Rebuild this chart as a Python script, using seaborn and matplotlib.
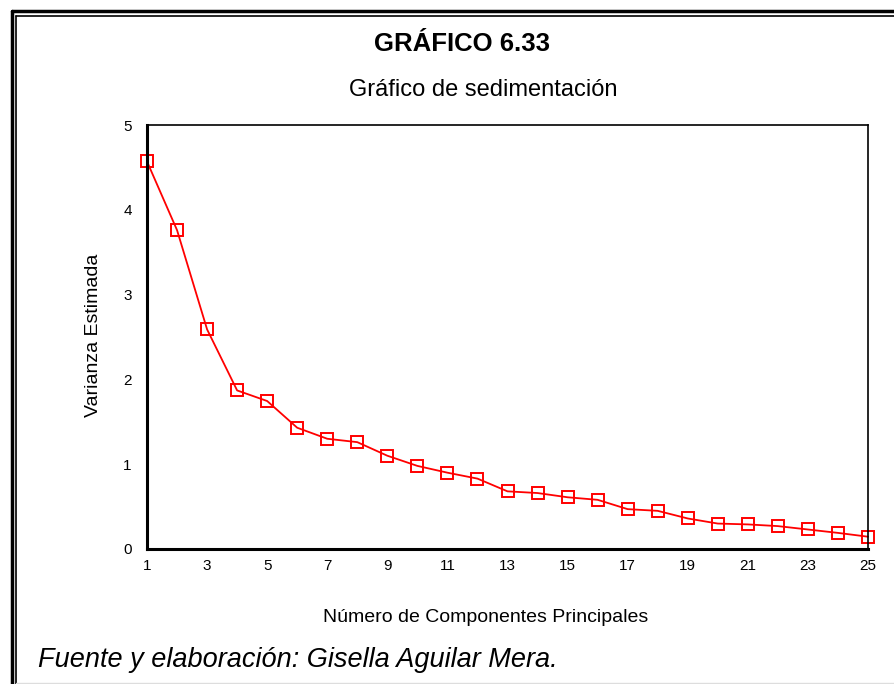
import numpy as np
import pandas as pd
import matplotlib
matplotlib.use("Agg")
import matplotlib.pyplot as plt
import seaborn as sns
from matplotlib.lines import Line2D

# Scree plot data
componentes = list(range(1, 26))
varianza = [4.57, 3.76, 2.59, 1.87, 1.745, 1.43, 1.30, 1.26, 1.10, 0.98,
            0.90, 0.83, 0.68, 0.66, 0.61, 0.58, 0.47, 0.45, 0.36, 0.30,
            0.29, 0.27, 0.23, 0.19, 0.145]
x_ticks = list(range(1, 26, 2))
y_ticks = [0, 1, 2, 3, 4, 5]

sns.set_style("white")
plt.rcParams["font.family"] = ["Liberation Sans", "DejaVu Sans"]
plt.rcParams["text.color"] = "black"

df = pd.DataFrame({"Componente": componentes, "Varianza": varianza})

fig = plt.figure(figsize=(8.94, 6.84), dpi=100)
ax = fig.add_axes([147 / 894, 1 - 549 / 684, (868 - 147) / 894, (549 - 125) / 684])

sns.lineplot(data=df, x="Componente", y="Varianza", ax=ax, color="#ff0000",
             lw=1.3, marker="s", markersize=8, markerfacecolor="none",
             markeredgecolor="#ff0000", markeredgewidth=1.4, clip_on=False)

ax.set_xlim(1, 25)
ax.set_ylim(0, 5)
ax.set_xticks(x_ticks)
ax.set_yticks(y_ticks)
ax.tick_params(axis="both", direction="inout", length=4, width=3.5,
               labelsize=11, colors="black", labelcolor="black")
ax.tick_params(axis="x", pad=5)
ax.tick_params(axis="y", pad=9)

for side in ["left", "bottom"]:
    ax.spines[side].set_linewidth(2.2)
    ax.spines[side].set_color("black")
for side in ["top", "right"]:
    ax.spines[side].set_visible(True)
    ax.spines[side].set_linewidth(1.2)
    ax.spines[side].set_color("black")

ax.set_xlabel("")
ax.set_ylabel("")
fig.text(93 / 894, 1 - 335 / 684, "Varianza Estimada", rotation=90,
         ha="center", va="center", fontsize=14)
fig.text(486 / 894, 1 - 618 / 684, "Número de Componentes Principales",
         ha="center", va="center", fontsize=14)

fig.text(462 / 894, 1 - 44 / 684, "GRÁFICO 6.33", ha="center", va="center",
         fontsize=18.5, fontweight="bold")
fig.text(483 / 894, 1 - 90 / 684, "Gráfico de sedimentación", ha="center",
         va="center", fontsize=17)
fig.text(38 / 894, 1 - 660 / 684, "Fuente y elaboración: Gisella Aguilar Mera.",
         ha="left", va="center", fontsize=19.5, style="italic")

# double frame around the page
W, H = 894, 684
fig.add_artist(Line2D([11.5 / W, 11.5 / W], [0, 1 - 10.5 / H], transform=fig.transFigure,
                      color="black", lw=2.5))
fig.add_artist(Line2D([11.5 / W, 1], [1 - 10.5 / H, 1 - 10.5 / H], transform=fig.transFigure,
                      color="black", lw=2.5))
fig.add_artist(Line2D([16 / W, 16 / W], [0, 1 - 15.5 / H], transform=fig.transFigure,
                      color="black", lw=1.2))
fig.add_artist(Line2D([16 / W, 1], [1 - 15.5 / H, 1 - 15.5 / H], transform=fig.transFigure,
                      color="black", lw=1.2))
fig.add_artist(Line2D([16 / W, 1], [0.7 / H, 0.7 / H], transform=fig.transFigure,
                      color="#dddddd", lw=1))

fig.savefig("out.png", dpi=100)
plt.close(fig)
